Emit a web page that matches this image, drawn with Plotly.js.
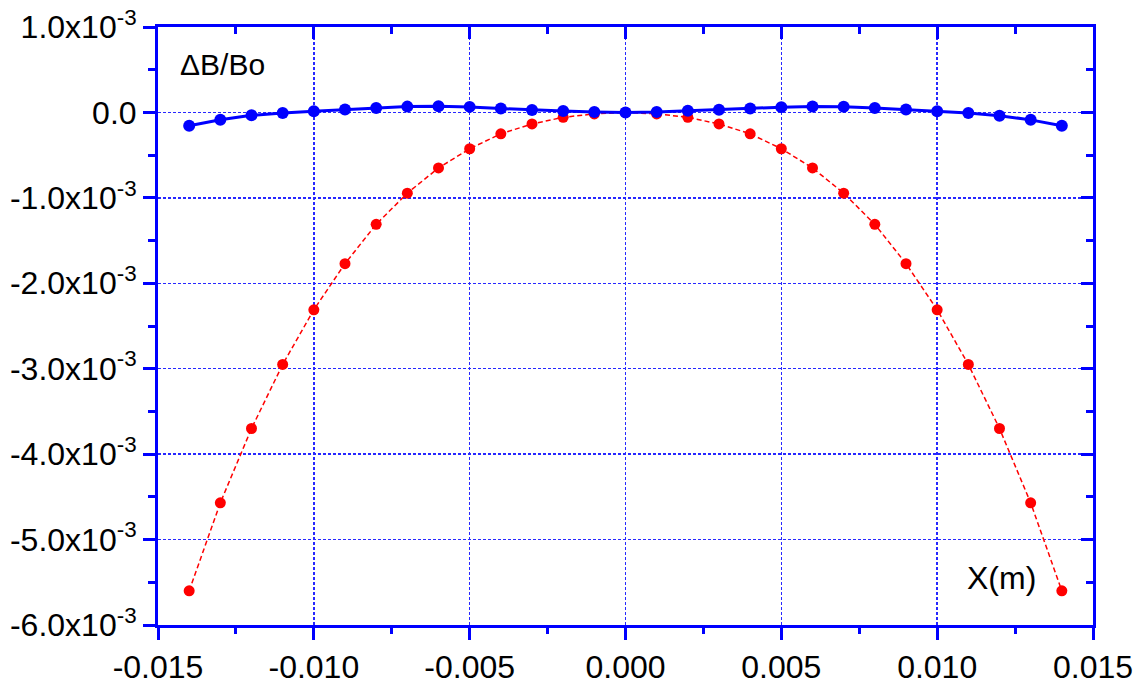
<!DOCTYPE html>
<html>
<head>
<meta charset="utf-8">
<script src="https://cdn.plot.ly/plotly-3.0.1.min.js"></script>
<style>html,body{margin:0;padding:0;background:#fff;}#chart{width:1142px;height:684px;}</style>
</head>
<body>
<div id="chart"></div>
<script>
const xPos = [-0.014,-0.013,-0.012,-0.011,-0.010,-0.009,-0.008,-0.007,-0.006,-0.005,-0.004,-0.003,-0.002,-0.001,0.000,
              0.001,0.002,0.003,0.004,0.005,0.006,0.007,0.008,0.009,0.010,0.011,0.012,0.013,0.014];
const blueSeries = [-0.155e-3,-0.085e-3,-0.034e-3,-0.006e-3,0.013e-3,0.033e-3,0.053e-3,0.068e-3,0.072e-3,0.065e-3,0.045e-3,0.029e-3,0.018e-3,0.006e-3,0.0,
                    0.004e-3,0.019e-3,0.031e-3,0.047e-3,0.062e-3,0.070e-3,0.066e-3,0.053e-3,0.033e-3,0.013e-3,-0.008e-3,-0.038e-3,-0.087e-3,-0.155e-3];
const redSeries = [-5.60e-3,-4.57e-3,-3.70e-3,-2.95e-3,-2.31e-3,-1.77e-3,-1.31e-3,-0.945e-3,-0.65e-3,-0.425e-3,-0.25e-3,-0.135e-3,-0.057e-3,-0.017e-3,0.0,
                   -0.017e-3,-0.057e-3,-0.135e-3,-0.25e-3,-0.425e-3,-0.65e-3,-0.945e-3,-1.31e-3,-1.77e-3,-2.31e-3,-2.95e-3,-3.70e-3,-4.57e-3,-5.60e-3];
const xTickVals = [-0.015,-0.010,-0.005,0.000,0.005,0.010,0.015];
const xTickText = ["-0.015","-0.010","-0.005","0.000","0.005","0.010","0.015"];
const yTickVals = [1e-3,0,-1e-3,-2e-3,-3e-3,-4e-3,-5e-3,-6e-3];
const yTickText = ["1.0x10<sup>-3</sup>","0.0","-1.0x10<sup>-3</sup>","-2.0x10<sup>-3</sup>","-3.0x10<sup>-3</sup>","-4.0x10<sup>-3</sup>","-5.0x10<sup>-3</sup>","-6.0x10<sup>-3</sup>"];
const xRange = [-0.015, 0.015];
const yRange = [-6e-3, 1e-3];

const BLUE = '#0000FF', RED = '#FF0000';
const FONT = 'Liberation Sans, Arial, sans-serif';

const traces = [
  {x: xPos, y: redSeries, mode: 'lines+markers', type: 'scatter',
   line: {color: RED, width: 1.5, dash: '5px,3px'},
   marker: {color: RED, size: 11}, hoverinfo: 'skip', showlegend: false},
  {x: xPos, y: blueSeries, mode: 'lines+markers', type: 'scatter',
   line: {color: BLUE, width: 3},
   marker: {color: BLUE, size: 12}, hoverinfo: 'skip', showlegend: false},
  {x: xPos, y: blueSeries, xaxis: 'x2', yaxis: 'y2', mode: 'markers', type: 'scatter',
   opacity: 0, hoverinfo: 'skip', showlegend: false}
];

const layout = {
  width: 1142, height: 684,
  margin: {l: 158, r: 49, t: 27, b: 59},
  paper_bgcolor: '#fff', plot_bgcolor: '#fff',
  font: {family: FONT, color: '#000', size: 32},
  xaxis: {
    range: xRange, tickvals: xTickVals, ticktext: xTickText,
    ticks: 'outside', ticklen: 12, tickwidth: 3, tickcolor: BLUE,
    showline: true, linecolor: BLUE, linewidth: 3,
    showgrid: true, gridcolor: 'rgb(40,40,255)', gridwidth: 1.5, griddash: '3px,2px',
    zeroline: false, tickfont: {size: 32, family: FONT, color: '#000'},
    minor: {dtick: 0.0025, ticks: 'outside', ticklen: 6, tickwidth: 3, tickcolor: BLUE, showgrid: false}
  },
  yaxis: {
    range: yRange, tickvals: yTickVals, ticktext: yTickText,
    ticks: 'outside', ticklen: 12, tickwidth: 3, tickcolor: BLUE,
    showline: true, linecolor: BLUE, linewidth: 3,
    showgrid: true, gridcolor: 'rgb(40,40,255)', gridwidth: 1.5, griddash: '3px,2px',
    zeroline: false, tickfont: {size: 32, family: FONT, color: '#000'},
    minor: {dtick: 0.0005, ticks: 'outside', ticklen: 7, tickwidth: 3, tickcolor: BLUE, showgrid: false}
  },
  xaxis2: {
    overlaying: 'x', side: 'top', range: xRange, tickvals: xTickVals,
    showticklabels: false, ticks: 'inside', ticklen: 12, tickwidth: 3, tickcolor: BLUE,
    showline: true, linecolor: BLUE, linewidth: 3, showgrid: false, zeroline: false,
    minor: {dtick: 0.0025, ticks: 'inside', ticklen: 7, tickwidth: 3, tickcolor: BLUE, showgrid: false}
  },
  yaxis2: {
    overlaying: 'y', side: 'right', range: yRange, tickvals: yTickVals,
    showticklabels: false, ticks: 'inside', ticklen: 12, tickwidth: 3, tickcolor: BLUE,
    showline: true, linecolor: BLUE, linewidth: 3, showgrid: false, zeroline: false,
    minor: {dtick: 0.0005, ticks: 'inside', ticklen: 7, tickwidth: 3, tickcolor: BLUE, showgrid: false}
  },
  annotations: [
    {text: 'ΔB/Bo', xref: 'paper', yref: 'paper', x: 0.0214, y: 0.937, xanchor: 'left', yanchor: 'middle',
     showarrow: false, font: {size: 30, family: FONT, color: '#000'}},
    {text: 'X(m)', xref: 'paper', yref: 'paper', x: 0.941, y: 0.079, xanchor: 'right', yanchor: 'middle',
     showarrow: false, font: {size: 32, family: FONT, color: '#000'}}
  ]
};

Plotly.newPlot('chart', traces, layout, {staticPlot: true, displayModeBar: false});
</script>
</body>
</html>
